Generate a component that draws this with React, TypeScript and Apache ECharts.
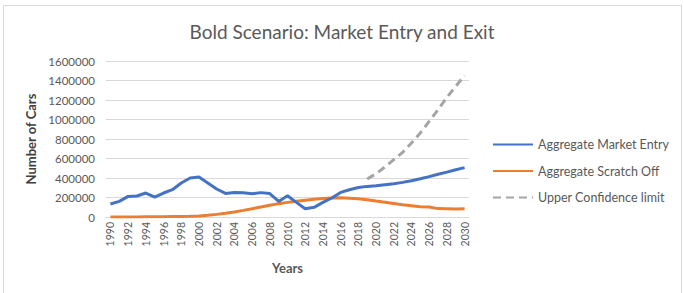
import React, { useEffect, useRef } from "react";
import * as echarts from "echarts";

// Years on the category axis
const years: string[] = [];
for (let y = 1990; y <= 2030; y++) years.push(String(y));

// Aggregate market entry (cars), 1990–2030
const marketEntry: number[] = [
  133000, 160000, 211000, 215000, 246000, 205000, 246000, 280000, 349000, 400000,
  410000, 349000, 287000, 242000, 252000, 248000, 238000, 250000, 240000, 160000,
  218000, 150000, 85000, 99000, 150000, 195000, 252000, 280000, 302000, 314000,
  321000, 331000, 341000, 355000, 372000, 392000, 414000, 438000, 460000, 484000,
  506000,
];

// Aggregate scratch off (cars), 1990–2030
const scratchOff: number[] = [
  1000, 1000, 1000, 1000, 2000, 2000, 3000, 4000, 5000, 7000,
  10000, 17000, 27000, 39000, 52000, 68000, 85000, 103000, 121000, 137000,
  150000, 162000, 172000, 182000, 190000, 196000, 198000, 193000, 186000, 176000,
  163000, 151000, 139000, 126000, 116000, 106000, 103000, 86000, 85000, 83000,
  84000,
];

// Upper confidence limit, projected from 2019
const upperLimit: (number | null)[] = [
  null, null, null, null, null, null, null, null, null, null,
  null, null, null, null, null, null, null, null, null, null,
  null, null, null, null, null, null, null, null, null, 390000,
  444000, 513000, 588000, 663000, 759000, 862000, 981000, 1100000, 1227000, 1340000,
  1452000,
];

const FONT = "Lato, 'Open Sans', sans-serif";

export default function App() {
  const ref = useRef<HTMLDivElement>(null);

  useEffect(() => {
    if (!ref.current) return;
    const chart = echarts.init(ref.current, undefined, { renderer: "svg" });
    chart.setOption({
      animation: false,
      backgroundColor: "#ffffff",
      textStyle: { fontFamily: FONT },
      title: {
        text: "Bold Scenario: Market Entry and Exit",
        left: "center",
        top: 17,
        textStyle: { fontFamily: FONT, fontSize: 19, fontWeight: "normal", color: "#595959" },
      },
      graphic: [
        {
          type: "rect",
          shape: { x: 3.5, y: 5.5, width: 678, height: 292 },
          style: { fill: "none", stroke: "#d9d9d9", lineWidth: 1 },
          silent: true,
        },
      ],
      legend: {
        orient: "vertical",
        left: 487,
        top: 133,
        itemWidth: 40,
        itemHeight: 14,
        itemGap: 13.5,
        itemStyle: { opacity: 0 },
        textStyle: { fontFamily: FONT, fontSize: 12.5, color: "#595959" },
        data: ["Aggregate Market Entry", "Aggregate Scratch Off", "Upper Confidence limit"],
      },
      grid: { left: 106, right: 215, top: 61, bottom: 76, containLabel: false },
      xAxis: {
        type: "category",
        data: years,
        boundaryGap: true,
        name: "Years",
        nameLocation: "middle",
        nameGap: 44,
        nameTextStyle: { fontFamily: FONT, fontSize: 13, fontWeight: "bold", color: "#595959" },
        axisLine: { lineStyle: { color: "#d9d9d9" } },
        axisTick: { show: false },
        axisLabel: {
          interval: 1,
          rotate: 90,
          fontFamily: FONT,
          fontSize: 10.5,
          color: "#595959",
          margin: 5,
        },
      },
      yAxis: {
        type: "value",
        min: 0,
        max: 1600000,
        interval: 200000,
        name: "Number of Cars",
        nameLocation: "middle",
        nameRotate: 90,
        nameGap: 59,
        nameTextStyle: { fontFamily: FONT, fontSize: 13, fontWeight: "bold", color: "#404040" },
        axisLine: { show: false },
        axisTick: { show: false },
        axisLabel: {
          fontFamily: FONT,
          fontSize: 11.5,
          color: "#595959",
          margin: 11,
          formatter: (v: number) => String(v),
        },
        splitLine: { lineStyle: { color: "#d9d9d9" } },
      },
      series: [
        {
          name: "Aggregate Market Entry",
          type: "line",
          data: marketEntry,
          symbol: "none",
          color: "#4472C4",
          lineStyle: { width: 3, color: "#4472C4" },
          z: 3,
        },
        {
          name: "Aggregate Scratch Off",
          type: "line",
          data: scratchOff,
          symbol: "none",
          color: "#ED7D31",
          lineStyle: { width: 3, color: "#ED7D31" },
          z: 2,
        },
        {
          name: "Upper Confidence limit",
          type: "line",
          data: upperLimit,
          symbol: "none",
          color: "#A5A5A5",
          lineStyle: { width: 3, color: "#A5A5A5", type: [8, 5] },
          z: 1,
        },
      ],
    });
    return () => chart.dispose();
  }, []);

  return (
    <div
      ref={ref}
      style={{ position: "fixed", left: 0, top: 0, width: 684, height: 293 }}
    />
  );
}
